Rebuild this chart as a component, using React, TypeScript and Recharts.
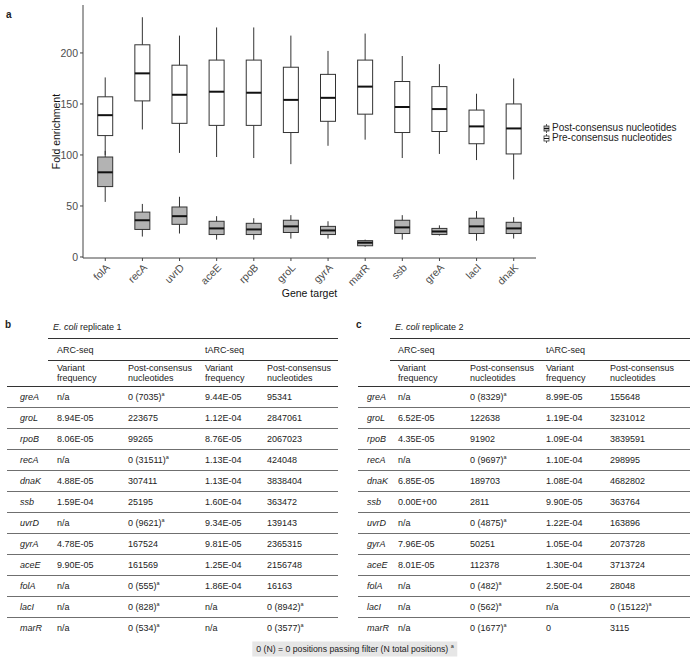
import React from "react";
import {
  ComposedChart,
  Bar,
  XAxis,
  YAxis,
  Legend,
} from "recharts";

// panel a: fold enrichment box stats
const genes = ["folA", "recA", "uvrD", "aceE", "rpoB", "groL", "gyrA", "marR", "ssb", "greA", "lacI", "dnaK"];
const preMin = [100, 125, 102, 98, 97, 91, 109, 115, 97, 101, 95, 76];
const preQ1 = [119, 153, 131, 129, 129, 122, 133, 140, 122, 123, 111, 101];
const preMed = [139, 180, 159, 162, 161, 154, 156, 167, 147, 145, 128, 126];
const preQ3 = [157, 208, 188, 193, 193, 186, 179, 193, 172, 167, 144, 150];
const preMax = [176, 235, 217, 225, 225, 217, 202, 219, 197, 189, 160, 175];
const postMin = [54, 20, 23, 17, 17, 18, 18, 10, 17, 21, 16, 18];
const postQ1 = [69, 27, 32, 22, 22, 24, 22, 11, 23, 22, 23, 23];
const postMed = [83, 36, 40, 28, 27, 30, 26, 14, 29, 25, 30, 28];
const postQ3 = [98, 44, 49, 35, 33, 36, 30, 16, 36, 28, 38, 34];
const postMax = [104, 52, 59, 40, 38, 41, 35, 17, 41, 31, 45, 39];
const yTicks = [0, 50, 100, 150, 200];

// panels b and c
const tableGenes = ["greA", "groL", "rpoB", "recA", "dnaK", "ssb", "uvrD", "gyrA", "aceE", "folA", "lacI", "marR"];
const rep1ArcVar = ["n/a", "8.94E-05", "8.06E-05", "n/a", "4.88E-05", "1.59E-04", "n/a", "4.78E-05", "9.90E-05", "n/a", "n/a", "n/a"];
const rep1ArcPost = ["0 (7035)^a", "223675", "99265", "0 (31511)^a", "307411", "25195", "0 (9621)^a", "167524", "161569", "0 (555)^a", "0 (828)^a", "0 (534)^a"];
const rep1TarcVar = ["9.44E-05", "1.12E-04", "8.76E-05", "1.13E-04", "1.13E-04", "1.60E-04", "9.34E-05", "9.81E-05", "1.25E-04", "1.86E-04", "n/a", "n/a"];
const rep1TarcPost = ["95341", "2847061", "2067023", "424048", "3838404", "363472", "139143", "2365315", "2156748", "16163", "0 (8942)^a", "0 (3577)^a"];
const rep2ArcVar = ["n/a", "6.52E-05", "4.35E-05", "n/a", "6.85E-05", "0.00E+00", "n/a", "7.96E-05", "8.01E-05", "n/a", "n/a", "n/a"];
const rep2ArcPost = ["0 (8329)^a", "122638", "91902", "0 (9697)^a", "189703", "2811", "0 (4875)^a", "50251", "112378", "0 (482)^a", "0 (562)^a", "0 (1677)^a"];
const rep2TarcVar = ["8.99E-05", "1.19E-04", "1.09E-04", "1.10E-04", "1.08E-04", "9.90E-05", "1.22E-04", "1.05E-04", "1.30E-04", "2.50E-04", "n/a", "0"];
const rep2TarcPost = ["155648", "3231012", "3839591", "298995", "4682802", "363764", "163896", "2073728", "3713724", "28048", "0 (15122)^a", "3115"];

const FONT = '"Liberation Sans", Arial, sans-serif';

const chartData = genes.map((gene, i) => ({
  idx: i + 1,
  gene,
  preMin: preMin[i],
  preQ1: preQ1[i],
  preMed: preMed[i],
  preQ3: preQ3[i],
  preMax: preMax[i],
  postMin: postMin[i],
  postQ1: postQ1[i],
  postMed: postMed[i],
  postQ3: postQ3[i],
  postMax: postMax[i],
}));

function BoxShape(props: any) {
  const { x, y, width, height, payload, prefix, boxFill } = props;
  if (x == null || y == null) return null;
  const top = Math.min(y, y + height);
  const h = Math.abs(height);
  const lo = payload[prefix + "Min"];
  const hi = payload[prefix + "Max"];
  // map a value into the pixel span the bar got from the y scale
  const py = (v: number) => top + ((hi - v) / (hi - lo)) * h;
  const cx = x + width / 2;
  const q1 = py(payload[prefix + "Q1"]);
  const q3 = py(payload[prefix + "Q3"]);
  const med = py(payload[prefix + "Med"]);
  return (
    <g>
      <line x1={cx} x2={cx} y1={py(hi)} y2={py(lo)} stroke="#333" strokeWidth={1} />
      <rect x={x} y={q3} width={width} height={q1 - q3} fill={boxFill} stroke="#333" strokeWidth={1} />
      <line x1={x} x2={x + width} y1={med} y2={med} stroke="#111" strokeWidth={2} />
    </g>
  );
}

function LegendKey({ payload }: any) {
  const items = [...(payload || [])].sort((a: any, b: any) => (a.value < b.value ? -1 : 1));
  return (
    <div style={{ fontFamily: FONT, fontSize: 10, color: "#222", lineHeight: "10px" }}>
      {items.map((it: any) => (
        <div key={it.value} style={{ display: "flex", alignItems: "center", whiteSpace: "nowrap", height: 10 }}>
          <svg width={7} height={9} style={{ marginRight: 2 }}>
            <line x1={3.5} x2={3.5} y1={0} y2={9} stroke="#333" strokeWidth={0.8} />
            <rect x={1} y={2} width={5} height={5} fill={it.color} stroke="#333" strokeWidth={0.8} />
            <line x1={1} x2={6} y1={4.5} y2={4.5} stroke="#111" strokeWidth={1} />
          </svg>
          <span>{it.value}</span>
        </div>
      ))}
    </div>
  );
}

function Cell({ text, x, y, italic }: { text: string; x: number; y: number; italic?: boolean }) {
  const [main, sup] = text.split("^");
  return (
    <div
      style={{
        position: "absolute",
        left: x,
        top: y,
        transform: "translateY(-50%)",
        whiteSpace: "nowrap",
        fontStyle: italic ? "italic" : "normal",
        lineHeight: "11px",
      }}
    >
      {main}
      {sup && <sup style={{ fontSize: 5.5, lineHeight: 0 }}>{sup}</sup>}
    </div>
  );
}

function HLine({ x1, x2, y, color, w }: { x1: number; x2: number; y: number; color: string; w: number }) {
  return <div style={{ position: "absolute", left: x1, top: y - w / 2, width: x2 - x1, height: w, background: color }} />;
}

type TableProps = {
  label: string;
  replicate: string;
  left: number;
  dataLeft: number;
  right: number;
  cols: number[]; // gene, var, post, tvar, tpost
  arcVar: string[];
  arcPost: string[];
  tarcVar: string[];
  tarcPost: string[];
};

function ReplicateTable({ label, replicate, left, dataLeft, right, cols, arcVar, arcPost, tarcVar, tarcPost }: TableProps) {
  const rowY = (i: number) => 397 + 21 * i;
  return (
    <>
      <div style={{ position: "absolute", left: left - 2, top: 324, transform: "translateY(-50%)", fontSize: 10, fontWeight: "bold" }}>
        {label}
      </div>
      <div style={{ position: "absolute", left: dataLeft + 5, top: 326.5, transform: "translateY(-50%)", whiteSpace: "nowrap" }}>
        <i>E. coli</i> {replicate}
      </div>
      <HLine x1={dataLeft} x2={right} y={338} color="#333" w={1} />
      <Cell text="ARC-seq" x={cols[1]} y={349.5} />
      <Cell text="tARC-seq" x={cols[3]} y={349.5} />
      <HLine x1={dataLeft} x2={right} y={360} color="#333" w={1} />
      <Cell text="Variant" x={cols[1]} y={367.5} />
      <Cell text="frequency" x={cols[1]} y={378} />
      <Cell text="Post-consensus" x={cols[2]} y={367.5} />
      <Cell text="nucleotides" x={cols[2]} y={378} />
      <Cell text="Variant" x={cols[3]} y={367.5} />
      <Cell text="frequency" x={cols[3]} y={378} />
      <Cell text="Post-consensus" x={cols[4]} y={367.5} />
      <Cell text="nucleotides" x={cols[4]} y={378} />
      <HLine x1={left} x2={right} y={386} color="#333" w={1} />
      {tableGenes.map((g, i) => (
        <React.Fragment key={g}>
          <Cell text={g} x={cols[0]} y={rowY(i)} italic />
          <Cell text={arcVar[i]} x={cols[1]} y={rowY(i)} />
          <Cell text={arcPost[i]} x={cols[2]} y={rowY(i)} />
          <Cell text={tarcVar[i]} x={cols[3]} y={rowY(i)} />
          <Cell text={tarcPost[i]} x={cols[4]} y={rowY(i)} />
          {i < tableGenes.length - 1 && <HLine x1={left} x2={right} y={rowY(i) + 10.5} color="#6f6f6f" w={1.4} />}
        </React.Fragment>
      ))}
    </>
  );
}

export default function App() {
  return (
    <div
      style={{
        position: "absolute",
        left: 0,
        top: 0,
        width: 700,
        height: 664,
        background: "#fff",
        fontFamily: FONT,
        fontSize: 9,
        color: "#222",
        overflow: "hidden",
      }}
    >
      <div style={{ position: "absolute", left: 6, top: 14, transform: "translateY(-50%)", fontSize: 10, fontWeight: "bold" }}>a</div>
      <ComposedChart
        width={700}
        height={302}
        data={chartData}
        margin={{ top: 5, right: 164, bottom: 0, left: 23 }}
        barGap={-15}
      >
        <XAxis
          type="number"
          dataKey="idx"
          domain={[0.4, 12.6]}
          ticks={genes.map((_, i) => i + 1)}
          tickFormatter={(v: number) => genes[v - 1]}
          interval={0}
          angle={-45}
          textAnchor="end"
          height={44}
          tickSize={3}
          axisLine={{ stroke: "#444" }}
          tickLine={{ stroke: "#444" }}
          tick={{ fontSize: 10.5, fill: "#4d4d4d", fontFamily: FONT }}
          label={{ value: "Gene target", position: "insideBottom", offset: 5, fontSize: 10.5, fill: "#111", fontFamily: FONT }}
        />
        <YAxis
          type="number"
          domain={[-1, 247]}
          ticks={yTicks}
          allowDataOverflow
          width={60}
          tickSize={3}
          axisLine={{ stroke: "#444" }}
          tickLine={{ stroke: "#444" }}
          tick={{ fontSize: 10.5, fill: "#4d4d4d", fontFamily: FONT }}
          label={{
            value: "Fold enrichment",
            angle: -90,
            position: "insideLeft",
            offset: 33,
            fontSize: 10.5,
            fill: "#111",
            fontFamily: FONT,
            style: { textAnchor: "middle" },
          }}
        />
        <Legend
          layout="vertical"
          align="center"
          verticalAlign="middle"
          wrapperStyle={{ left: 543, top: 123, width: 157, height: 22 }}
          content={<LegendKey />}
        />
        <Bar
          name="Pre-consensus nucleotides"
          dataKey={(d: any) => [d.preMin, d.preMax]}
          fill="#ffffff"
          barSize={15}
          isAnimationActive={false}
          shape={(p: any) => <BoxShape {...p} prefix="pre" boxFill="#ffffff" />}
        />
        <Bar
          name="Post-consensus nucleotides"
          dataKey={(d: any) => [d.postMin, d.postMax]}
          fill="#b3b3b3"
          barSize={15}
          isAnimationActive={false}
          shape={(p: any) => <BoxShape {...p} prefix="post" boxFill="#b3b3b3" />}
        />
      </ComposedChart>

      <ReplicateTable
        label="b"
        replicate="replicate 1"
        left={7}
        dataLeft={48}
        right={338}
        cols={[20, 57, 128, 205, 267]}
        arcVar={rep1ArcVar}
        arcPost={rep1ArcPost}
        tarcVar={rep1TarcVar}
        tarcPost={rep1TarcPost}
      />
      <ReplicateTable
        label="c"
        replicate="replicate 2"
        left={358}
        dataLeft={390}
        right={690}
        cols={[367, 398, 470, 546, 610]}
        arcVar={rep2ArcVar}
        arcPost={rep2ArcPost}
        tarcVar={rep2TarcVar}
        tarcPost={rep2TarcPost}
      />

      <div
        style={{
          position: "absolute",
          left: 355,
          top: 648.5,
          transform: "translate(-50%, -50%)",
          background: "#e6e6e6",
          padding: "2px 4px",
          whiteSpace: "nowrap",
          lineHeight: "11px",
          fontSize: 8.7,
        }}
      >
        0 (N) = 0 positions passing filter (N total positions) <sup style={{ fontSize: 5.5, lineHeight: 0 }}>a</sup>
      </div>
    </div>
  );
}
